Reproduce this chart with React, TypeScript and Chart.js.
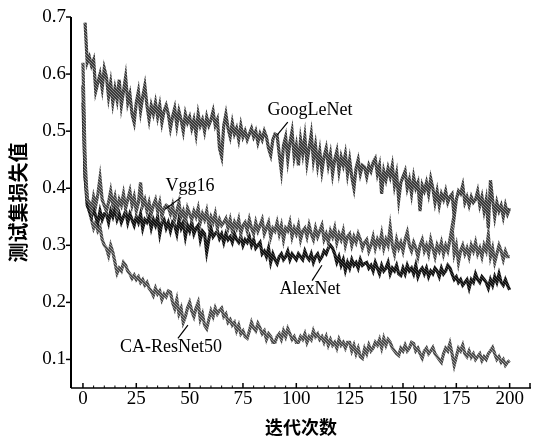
import React, { useEffect, useRef } from "react";
import { Chart, registerables } from "chart.js";

Chart.register(...registerables);

// Iteration index 0..200
const iterations: number[] = Array.from({ length: 201 }, (_, i) => i);

const xTicks = [0, 25, 50, 75, 100, 125, 150, 175, 200];
const yTicks = [0.1, 0.2, 0.3, 0.4, 0.5, 0.6, 0.7];

const xTitle = "迭代次数";
const yTitle = "测试集损失值";

const googLeNet: (number | null)[] = [
  null,
  0.69, 0.62, 0.63, 0.615, 0.625, 0.57, 0.585, 0.6, 0.575, 0.61,
  0.595, 0.56, 0.585, 0.55, 0.575, 0.555, 0.59, 0.545, 0.57, 0.595,
  0.55, 0.565, 0.53, 0.515, 0.55, 0.57, 0.535, 0.56, 0.58, 0.545,
  0.52, 0.545, 0.53, 0.55, 0.525, 0.545, 0.515, 0.535, 0.545, 0.53,
  0.505, 0.525, 0.54, 0.51, 0.535, 0.52, 0.5, 0.53, 0.515, 0.525,
  0.505, 0.52, 0.495, 0.53, 0.51, 0.52, 0.5, 0.525, 0.51, 0.52,
  0.535, 0.51, 0.52, 0.47, 0.455, 0.51, 0.53, 0.505, 0.49, 0.515,
  0.495, 0.505, 0.485, 0.51, 0.49, 0.5, 0.485, 0.495, 0.505, 0.49,
  0.5, 0.48, 0.495, 0.485, 0.5, 0.49, 0.47, 0.458, 0.485, 0.495,
  0.493, 0.46, 0.43, 0.475, 0.49, 0.45, 0.48, 0.5, 0.455, 0.475,
  0.44, 0.485, 0.46, 0.49, 0.445, 0.47, 0.495, 0.45, 0.475, 0.44,
  0.465, 0.43, 0.455, 0.47, 0.44, 0.46, 0.425, 0.45, 0.465, 0.43,
  0.455, 0.44, 0.46, 0.425, 0.45, 0.42, 0.4, 0.435, 0.45, 0.425,
  0.44, 0.437, 0.42, 0.44, 0.43, 0.445, 0.452, 0.425, 0.44, 0.39,
  0.43, 0.415, 0.435, 0.42, 0.44, 0.405, 0.425, 0.38, 0.41, 0.42,
  0.43, 0.4, 0.415, 0.39, 0.42, 0.4, 0.41, 0.36, 0.405, 0.395,
  0.41, 0.39, 0.417, 0.4, 0.375, 0.395, 0.37, 0.39, 0.38, 0.395,
  0.375, 0.385, 0.39, 0.35, 0.38, 0.395, 0.39, 0.405, 0.375, 0.385,
  0.37, 0.385, 0.375, 0.38, 0.395, 0.37, 0.385, 0.36, 0.38, 0.33,
  0.414, 0.38, 0.35, 0.375, 0.36, 0.37, 0.35, 0.37, 0.355, 0.365,
];

const vgg16: number[] = [
  0.62,
  0.45, 0.38, 0.375, 0.36, 0.385, 0.37, 0.39, 0.418, 0.38, 0.37,
  0.36, 0.375, 0.395, 0.37, 0.385, 0.36, 0.38, 0.37, 0.39, 0.365,
  0.38, 0.395, 0.37, 0.385, 0.36, 0.375, 0.41, 0.37, 0.38, 0.36,
  0.375, 0.355, 0.37, 0.38, 0.36, 0.375, 0.35, 0.365, 0.37, 0.367,
  0.355, 0.37, 0.345, 0.36, 0.375, 0.35, 0.36, 0.34, 0.365, 0.355,
  0.345, 0.36, 0.35, 0.365, 0.34, 0.355, 0.345, 0.36, 0.335, 0.35,
  0.34, 0.355, 0.33, 0.345, 0.335, 0.34, 0.347, 0.33, 0.345, 0.325,
  0.34, 0.33, 0.345, 0.32, 0.335, 0.34, 0.325, 0.345, 0.33, 0.32,
  0.34, 0.325, 0.335, 0.345, 0.32, 0.33, 0.34, 0.315, 0.33, 0.325,
  0.34, 0.32, 0.335, 0.31, 0.33, 0.325, 0.34, 0.315, 0.33, 0.32,
  0.335, 0.31, 0.325, 0.33, 0.315, 0.335, 0.32, 0.31, 0.33, 0.315,
  0.325, 0.335, 0.31, 0.32, 0.305, 0.325, 0.315, 0.33, 0.305, 0.32,
  0.31, 0.325, 0.3, 0.315, 0.32, 0.3, 0.315, 0.305, 0.32, 0.31,
  0.295, 0.305, 0.31, 0.29, 0.3, 0.315, 0.295, 0.31, 0.3, 0.32,
  0.295, 0.31, 0.3, 0.332, 0.3, 0.285, 0.31, 0.295, 0.305, 0.29,
  0.31, 0.323, 0.3, 0.29, 0.305, 0.295, 0.28, 0.3, 0.31, 0.29,
  0.3, 0.285, 0.31, 0.295, 0.28, 0.3, 0.29, 0.305, 0.285, 0.3,
  0.29, 0.31, 0.332, 0.285, 0.3, 0.27, 0.29, 0.3, 0.285, 0.295,
  0.28, 0.3, 0.29, 0.305, 0.285, 0.295, 0.28, 0.3, 0.29, 0.318,
  0.28, 0.295, 0.27, 0.285, 0.3, 0.29, 0.275, 0.29, 0.28, 0.28,
];

const alexNet: number[] = [
  0.58,
  0.42, 0.37, 0.36, 0.35, 0.365, 0.35, 0.34, 0.36, 0.345, 0.355,
  0.355, 0.34, 0.36, 0.35, 0.365, 0.345, 0.355, 0.34, 0.35, 0.36,
  0.34, 0.355, 0.345, 0.335, 0.35, 0.34, 0.355, 0.33, 0.345, 0.34,
  0.35, 0.33, 0.345, 0.335, 0.35, 0.32, 0.34, 0.345, 0.33, 0.34,
  0.325, 0.34, 0.335, 0.32, 0.345, 0.33, 0.34, 0.315, 0.335, 0.325,
  0.34, 0.32, 0.33, 0.335, 0.31, 0.325, 0.32, 0.288, 0.31, 0.33,
  0.315, 0.32, 0.325, 0.312, 0.32, 0.305, 0.32, 0.31, 0.315, 0.305,
  0.32, 0.31, 0.305, 0.315, 0.3, 0.31, 0.305, 0.315, 0.3, 0.31,
  0.295, 0.3, 0.305, 0.285, 0.29, 0.28, 0.295, 0.27, 0.285, 0.275,
  0.268, 0.28, 0.285, 0.275, 0.28, 0.29, 0.275, 0.285, 0.28, 0.275,
  0.285, 0.28, 0.275, 0.29, 0.28, 0.275, 0.285, 0.27, 0.28, 0.285,
  0.274, 0.28, 0.29, 0.285, 0.295, 0.3, 0.295, 0.285, 0.27, 0.28,
  0.265, 0.275, 0.256, 0.27, 0.26, 0.275, 0.265, 0.27, 0.26, 0.275,
  0.265, 0.268, 0.27, 0.26, 0.265, 0.255, 0.27, 0.26, 0.25, 0.265,
  0.255, 0.26, 0.27, 0.25, 0.26, 0.255, 0.265, 0.25, 0.247, 0.26,
  0.25, 0.265, 0.255, 0.26, 0.25, 0.265, 0.245, 0.255, 0.26, 0.25,
  0.26, 0.245, 0.255, 0.25, 0.26, 0.255, 0.245, 0.26, 0.25, 0.255,
  0.265, 0.26, 0.25, 0.24, 0.245, 0.235, 0.24, 0.23, 0.235, 0.24,
  0.225, 0.24, 0.235, 0.25, 0.24, 0.235, 0.245, 0.24, 0.235, 0.225,
  0.24, 0.23, 0.245, 0.235, 0.25, 0.235, 0.23, 0.24, 0.23, 0.222,
];

const caResNet50: number[] = [
  0.55,
  0.42, 0.385, 0.36, 0.345, 0.33, 0.34, 0.325, 0.332, 0.31, 0.3,
  0.295, 0.282, 0.3, 0.288, 0.27, 0.251, 0.26, 0.255, 0.27, 0.265,
  0.255, 0.25, 0.242, 0.248, 0.24, 0.245, 0.235, 0.24, 0.23, 0.235,
  0.225, 0.22, 0.212, 0.225, 0.215, 0.22, 0.205, 0.215, 0.21, 0.22,
  0.218, 0.2, 0.189, 0.205, 0.18, 0.19, 0.165, 0.175, 0.19, 0.2,
  0.185, 0.175, 0.19, 0.2, 0.17, 0.18, 0.16, 0.154, 0.17, 0.185,
  0.175, 0.19, 0.18, 0.186, 0.19, 0.175, 0.18, 0.165, 0.17, 0.16,
  0.165, 0.15, 0.16, 0.145, 0.15, 0.14, 0.137, 0.15, 0.165, 0.155,
  0.15, 0.163, 0.155, 0.145, 0.15, 0.135, 0.145, 0.14, 0.13, 0.13,
  0.14, 0.145, 0.135, 0.15, 0.14, 0.154, 0.145, 0.135, 0.14, 0.13,
  0.13, 0.14, 0.135, 0.145, 0.13, 0.14, 0.135, 0.15, 0.14, 0.145,
  0.135, 0.14, 0.13, 0.14, 0.125, 0.135, 0.125, 0.13, 0.12, 0.135,
  0.125, 0.13, 0.12, 0.13, 0.13, 0.115, 0.125, 0.11, 0.12, 0.105,
  0.102, 0.119, 0.11, 0.125, 0.115, 0.12, 0.13, 0.125, 0.135, 0.12,
  0.137, 0.125, 0.135, 0.13, 0.12, 0.115, 0.11, 0.107, 0.12, 0.115,
  0.125, 0.115, 0.12, 0.13, 0.128, 0.115, 0.12, 0.11, 0.102, 0.115,
  0.12, 0.11, 0.115, 0.121, 0.11, 0.105, 0.1, 0.095, 0.11, 0.12,
  0.115, 0.128, 0.11, 0.09, 0.105, 0.12, 0.115, 0.125, 0.11, 0.105,
  0.115, 0.104, 0.11, 0.1, 0.105, 0.11, 0.098, 0.105, 0.1, 0.11,
  0.115, 0.121, 0.11, 0.1, 0.105, 0.095, 0.1, 0.09, 0.095, 0.098,
];

const seriesNames = ["GoogLeNet", "Vgg16", "AlexNet", "CA-ResNet50"];
const seriesValues = [googLeNet, vgg16, alexNet, caResNet50];
// [dark speckle, light speckle] per series
const seriesShades = [
  ["#3a3a3a", "#8a8a8a"],
  ["#444444", "#959595"],
  ["#111111", "#4a4a4a"],
  ["#4a4a4a", "#9a9a9a"],
];

// Label annotations in data coordinates: text center, leader line start/end
const labelText = ["GoogLeNet", "Vgg16", "AlexNet", "CA-ResNet50"];
const labelX = [106.4, 50.2, 106.4, 41.3];
const labelY = [0.537, 0.4035, 0.223, 0.121];
const leaderFrom = [[96, 0.516], [46, 0.384], [112, 0.265], [49.2, 0.16]];
const leaderTo = [[91, 0.493], [38.5, 0.363], [107.4, 0.238], [44.5, 0.137]];

const SERIF = "'Liberation Serif', 'DejaVu Serif', serif";
const CJK = "'Noto Sans CJK SC', sans-serif";

function makeSpeckle(dark: string, light: string): CanvasPattern | string {
  const c = document.createElement("canvas");
  c.width = 3;
  c.height = 3;
  const g = c.getContext("2d");
  if (!g) return dark;
  g.fillStyle = dark;
  g.fillRect(0, 0, 3, 3);
  g.fillStyle = light;
  g.fillRect(1, 0, 1, 1);
  g.fillRect(0, 2, 1, 1);
  g.fillRect(2, 1, 1, 1);
  const p = g.createPattern(c, "repeat");
  return p || dark;
}

const axesPlugin = {
  id: "customAxes",
  afterDatasetsDraw(chart: any) {
    const { ctx, chartArea, scales } = chart;
    const xs = scales.x;
    const ys = scales.y;
    ctx.save();
    ctx.strokeStyle = "#000";
    ctx.lineWidth = 2;
    ctx.beginPath();
    ctx.moveTo(chartArea.left, chartArea.top);
    ctx.lineTo(chartArea.left, chartArea.bottom);
    ctx.stroke();
    ctx.lineWidth = 1.5;
    ctx.beginPath();
    ctx.moveTo(chartArea.left, chartArea.bottom);
    ctx.lineTo(chartArea.right, chartArea.bottom);
    ctx.stroke();
    ctx.lineWidth = 1.5;
    yTicks.forEach((v) => {
      const y = ys.getPixelForValue(v);
      ctx.beginPath();
      ctx.moveTo(chartArea.left - 5, y);
      ctx.lineTo(chartArea.left, y);
      ctx.stroke();
    });
    xTicks.forEach((v) => {
      const x = xs.getPixelForValue(v);
      ctx.beginPath();
      ctx.moveTo(x, chartArea.bottom);
      ctx.lineTo(x, chartArea.bottom - 5);
      ctx.stroke();
    });
    ctx.lineWidth = 1;
    for (let k = 0; k < xTicks.length - 1; k++) {
      const step = (xTicks[k + 1] - xTicks[k]) / 5;
      for (let m = 1; m < 5; m++) {
        const x = xs.getPixelForValue(xTicks[k] + m * step);
        ctx.beginPath();
        ctx.moveTo(x, chartArea.bottom);
        ctx.lineTo(x, chartArea.bottom - 2.5);
        ctx.stroke();
      }
    }
    ctx.lineWidth = 1.5;
    ctx.beginPath();
    ctx.moveTo(chartArea.right - 1, chartArea.bottom);
    ctx.lineTo(chartArea.right - 1, chartArea.bottom - 5);
    ctx.stroke();

    ctx.fillStyle = "#000";
    ctx.font = `18px ${SERIF}`;
    ctx.textAlign = "center";
    ctx.textBaseline = "middle";
    ctx.lineWidth = 1.2;
    labelText.forEach((t, i) => {
      ctx.fillText(t, xs.getPixelForValue(labelX[i]), ys.getPixelForValue(labelY[i]));
      ctx.beginPath();
      ctx.moveTo(xs.getPixelForValue(leaderFrom[i][0]), ys.getPixelForValue(leaderFrom[i][1]));
      ctx.lineTo(xs.getPixelForValue(leaderTo[i][0]), ys.getPixelForValue(leaderTo[i][1]));
      ctx.stroke();
    });
    ctx.restore();
  },
};

export default function App() {
  const canvasRef = useRef<HTMLCanvasElement | null>(null);

  useEffect(() => {
    document.body.style.margin = "0";
    const canvas = canvasRef.current;
    if (!canvas) return;
    const datasets = seriesNames.map((name, s) => ({
      label: name,
      data: iterations
        .map((x) => ({ x, y: seriesValues[s][x] }))
        .filter((p) => p.y !== null && p.y !== undefined),
      borderColor: makeSpeckle(seriesShades[s][0], seriesShades[s][1]),
      backgroundColor: seriesShades[s][0],
      borderWidth: 3.2,
      pointRadius: 0,
      tension: 0,
      fill: false,
    }));
    const chart = new Chart(canvas, {
      type: "line",
      data: { datasets },
      options: {
        animation: false,
        responsive: false,
        maintainAspectRatio: false,
        layout: { padding: { top: 17, right: 3, left: 0, bottom: 0 } },
        plugins: { legend: { display: false }, tooltip: { enabled: false } },
        scales: {
          x: {
            type: "linear",
            min: -5.6,
            max: 210,
            afterBuildTicks: (scale: any) => {
              scale.ticks = xTicks.map((v) => ({ value: v }));
            },
            afterFit: (scale: any) => {
              scale.height = 50;
            },
            grid: { display: false, drawTicks: false },
            border: { display: false },
            ticks: {
              color: "#000",
              padding: 0,
              maxRotation: 0,
              font: { family: SERIF, size: 19 },
              callback: (v: any) => String(v),
            },
            title: {
              display: true,
              text: xTitle,
              color: "#000",
              font: { family: CJK, size: 18, weight: "bold" },
              padding: { top: 0, bottom: 0 },
            },
          },
          y: {
            type: "linear",
            min: 0.05,
            max: 0.7,
            afterBuildTicks: (scale: any) => {
              scale.ticks = yTicks.map((v) => ({ value: v }));
            },
            afterFit: (scale: any) => {
              scale.width = 71;
            },
            grid: { display: false, drawTicks: false },
            border: { display: false },
            ticks: {
              color: "#000",
              padding: 5,
              font: { family: SERIF, size: 19 },
              callback: (v: any) => Number(v).toFixed(1),
            },
            title: {
              display: true,
              text: yTitle,
              color: "#000",
              font: { family: CJK, size: 20, weight: "bold" },
              padding: { top: 6, bottom: 0 },
            },
          },
        },
      },
      plugins: [axesPlugin],
    });
    return () => chart.destroy();
  }, []);

  return (
    <div style={{ width: 534, height: 438, background: "#fff" }}>
      <canvas ref={canvasRef} width={534} height={438} style={{ display: "block" }} />
    </div>
  );
}
